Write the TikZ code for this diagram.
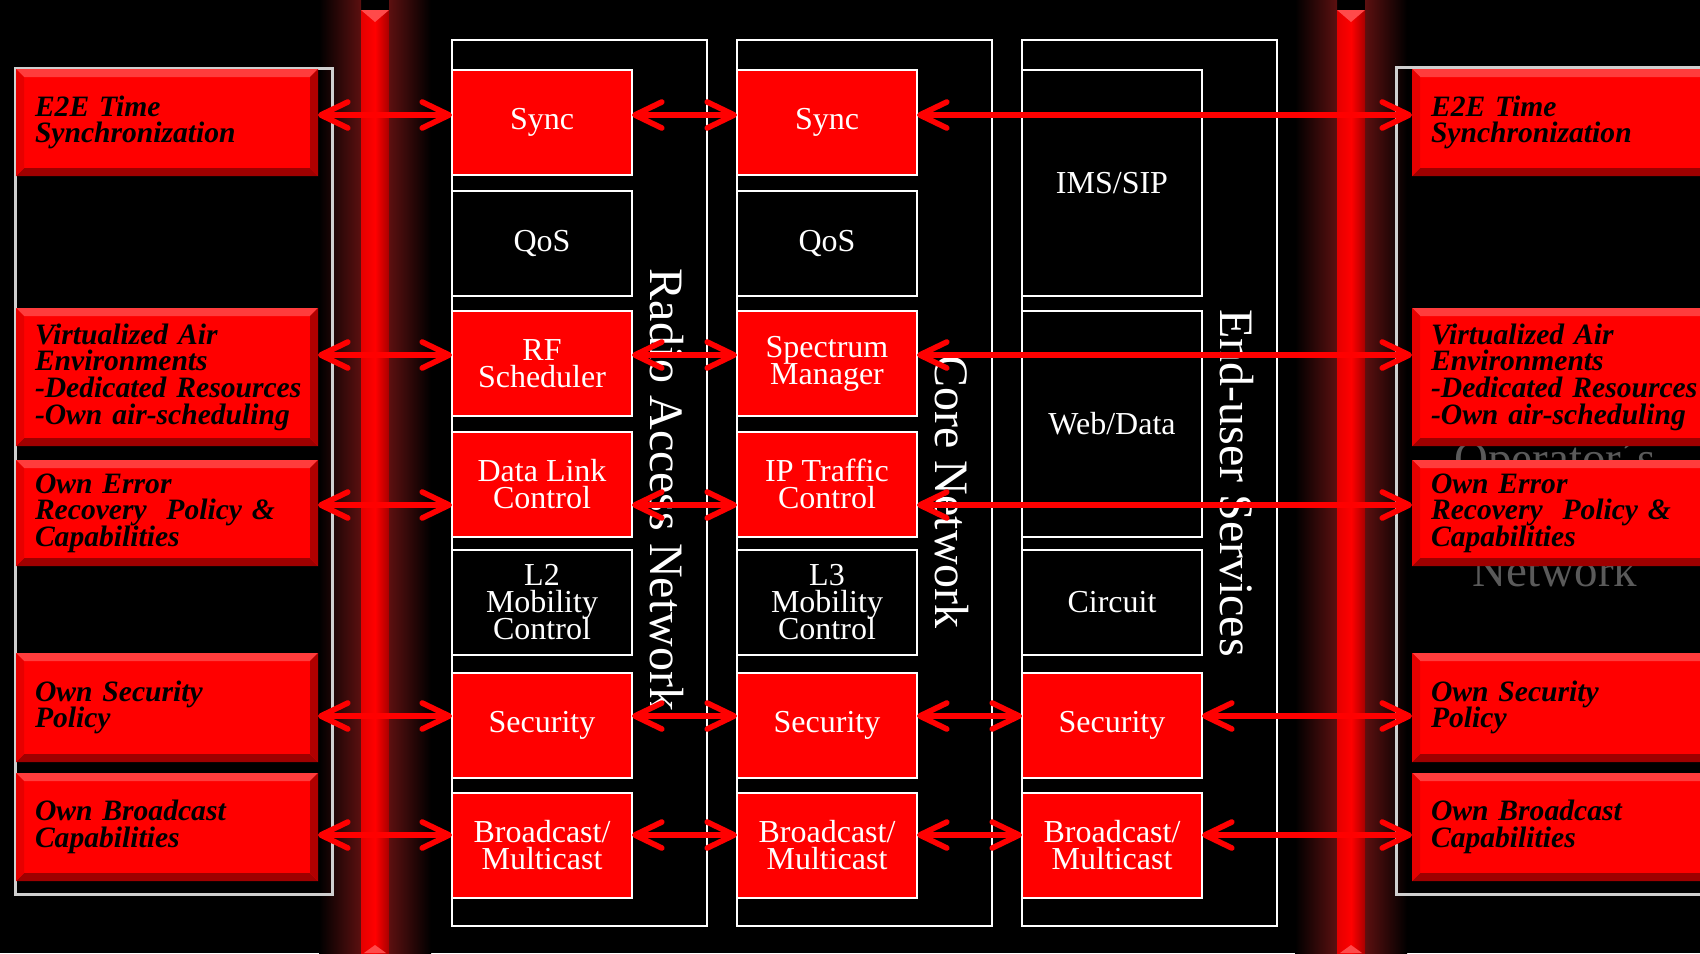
\documentclass[tikz,border=0pt]{standalone}
\usepackage{fontspec}
\setmainfont{Liberation Serif}
\usetikzlibrary{arrows.meta,calc}

\definecolor{boxred}{HTML}{FF0000}
\definecolor{glowred}{HTML}{5C1010}
\definecolor{pipelight}{HTML}{FF4A4A}
\definecolor{pipeleft}{HTML}{E40000}
\definecolor{piperight}{HTML}{A80000}
\definecolor{framegray}{HTML}{CFCFCF}
\definecolor{opgray}{HTML}{5A5A5A}
\definecolor{bevtop}{HTML}{FF3C3C}
\definecolor{bevbottom}{HTML}{9E0000}
\definecolor{bevleft}{HTML}{E60000}
\definecolor{bevright}{HTML}{B00000}

% fixed leading, whatever the ascenders and descenders
\newcommand{\tightlead}{\lineskiplimit=-20pt\relax}

\begin{document}
\begin{tikzpicture}[x=0.5pt, y=-0.5pt,
  every node/.style={inner sep=0pt, outer sep=0pt},
  cell/.style={draw=white, line width=1pt, minimum width=90pt, minimum height=52.5pt,
    align=center, text=white, anchor=north west,
    font=\fontsize{16}{13.5}\selectfont\tightlead},
  redcell/.style={cell, fill=boxred},
  darkcell/.style={cell, fill=black},
  column/.style={draw=white, line width=1pt},
  sideframe/.style={draw=framegray, line width=1.5pt},
  collabel/.style={text=white, rotate=-90, font=\fontsize{24}{24}\selectfont},
  opname/.style={text=opgray, anchor=base, font=\fontsize{23.5}{23.5}\selectfont},
  bevelbox/.style={fill=boxred, anchor=north west, minimum width=151pt,
    text width=132pt, inner xsep=9.5pt, inner ysep=0pt, align=left, text=black,
    font=\bfseries\itshape\fontsize{14.8}{13.3}\selectfont\tightlead,
    path picture={
      \coordinate (bnw) at (path picture bounding box.north west);
      \coordinate (bse) at (path picture bounding box.south east);
      \coordinate (bne) at (bse |- bnw);
      \coordinate (bsw) at (bnw |- bse);
      \fill[bevtop] (bnw) -- (bne) -- ([shift={(-8,8)}]bne) -- ([shift={(8,8)}]bnw) -- cycle;
      \fill[bevbottom] (bsw) -- (bse) -- ([shift={(-8,-8)}]bse) -- ([shift={(8,-8)}]bsw) -- cycle;
      \fill[bevleft] (bnw) -- ([shift={(8,8)}]bnw) -- ([shift={(8,-8)}]bsw) -- (bsw) -- cycle;
      \fill[bevright] (bne) -- ([shift={(-8,8)}]bne) -- ([shift={(-8,-8)}]bse) -- (bse) -- cycle;
    }},
  rightbevel/.style={bevelbox, minimum width=154pt, text width=135pt},
  link/.style={draw=boxred, line width=2.8pt,
    arrows={Straight Barb[length=13.5pt,width=13pt,line width=2.8pt,round]-Straight Barb[length=13.5pt,width=13pt,line width=2.8pt,round]}},
]

% canvas
\useasboundingbox (0,0) rectangle (1700,953);
\clip (0,0) rectangle (1700,953);
\fill[black] (0,0) rectangle (1700,953);

% glowing pipes
\foreach \px in {361,1337} {
  \shade[left color=black, right color=glowred] ({\px-42},0) rectangle (\px,953);
  \shade[left color=glowred, right color=black] ({\px+28},0) rectangle ({\px+70},953);
  \shade[left color=pipeleft, right color=piperight, middle color=boxred] (\px,10) rectangle ({\px+28},953);
  \fill[pipelight] (\px,10) -- ({\px+28},10) -- ({\px+14},22) -- cycle;
  \fill[pipelight] ({\px+3},953) -- ({\px+14},945) -- ({\px+25},953) -- cycle;
}

% operator network caption behind the right panel
\node[opname] (opA) at (1555,474) {Operator´s};
\node[opname] (opB) at (1555,586) {Network};

% side frames
\draw[sideframe] (15,68) rectangle (332,894);
\draw[sideframe] (1396,67) rectangle (1720,894);

% network columns
\draw[column] (452,40) rectangle (707,926);
\draw[column] (737,40) rectangle (992,926);
\draw[column] (1022,40) rectangle (1277,926);

\node[collabel] (ranLabel) at (667,490) {Radio Access Network};
\node[collabel] (coreLabel) at (952,492) {Core Network};
\node[collabel] (euLabel) at (1237,483) {End-user Services};

% radio access network
\node[redcell]  (ranSync) at (452,70)    {Sync};
\node[darkcell] (ranQos)  at (452,190.5) {QoS};
\node[redcell]  (ranRF)   at (452,311)   {RF\\Scheduler};
\node[redcell]  (ranDL)   at (452,431.5) {Data Link\\Control};
\node[darkcell] (ranMob)  at (452,550)   {L2\\Mobility\\Control};
\node[redcell]  (ranSec)  at (452,672.5) {Security};
\node[redcell]  (ranBC)   at (452,793)   {Broadcast/\\Multicast};

% core network
\node[redcell]  (coreSync) at (737,70)    {Sync};
\node[darkcell] (coreQos)  at (737,190.5) {QoS};
\node[redcell]  (coreSM)   at (737,311)   {Spectrum\\Manager};
\node[redcell]  (coreIP)   at (737,431.5) {IP Traffic\\Control};
\node[darkcell] (coreMob)  at (737,550)   {L3\\Mobility\\Control};
\node[redcell]  (coreSec)  at (737,672.5) {Security};
\node[redcell]  (coreBC)   at (737,793)   {Broadcast/\\Multicast};

% end-user services
\node[darkcell, minimum height=112.75pt] (euIMS) at (1022,70)  {IMS/SIP};
\node[darkcell, minimum height=112.75pt] (euWeb) at (1022,311) {Web/Data};
\node[darkcell] (euCirc) at (1022,550)   {Circuit};
\node[redcell]  (euSec)  at (1022,672.5) {Security};
\node[redcell]  (euBC)   at (1022,793)   {Broadcast/\\Multicast};

% operator panels, left
\node[bevelbox, minimum height=53.5pt] (lSync) at (16,69)  {E2E Time\\Synchronization};
\node[bevelbox, minimum height=69pt]   (lAir)  at (16,308) {Virtualized Air\\Environments\\\mbox{-Dedicated Resources}\\-Own air-scheduling};
\node[bevelbox, minimum height=53pt]   (lErr)  at (16,460) {Own Error\\Recovery\ \ Policy \&\\Capabilities};
\node[bevelbox, minimum height=54.5pt] (lSec)  at (16,653) {Own Security\\Policy};
\node[bevelbox, minimum height=54pt]   (lBC)   at (16,773) {Own Broadcast\\Capabilities};

% operator panels, right
\node[rightbevel, minimum height=53.5pt] (rSync) at (1412,69)  {E2E Time\\Synchronization};
\node[rightbevel, minimum height=69pt]   (rAir)  at (1412,308) {Virtualized Air\\Environments\\\mbox{-Dedicated Resources}\\-Own air-scheduling};
\node[rightbevel, minimum height=53pt]   (rErr)  at (1412,460) {Own Error\\Recovery\ \ Policy \&\\Capabilities};
\node[rightbevel, minimum height=54.5pt] (rSec)  at (1412,653) {Own Security\\Policy};
\node[rightbevel, minimum height=54pt]   (rBC)   at (1412,773) {Own Broadcast\\Capabilities};

% connector rows
\coordinate (rowSync) at (0,115);
\coordinate (rowRF)   at (0,355);
\coordinate (rowDL)   at (0,505);
\coordinate (rowSec)  at (0,716);
\coordinate (rowBC)   at (0,835);

% left panels to radio access network
\draw[link] (lSync.east |- rowSync) -- (ranSync.west |- rowSync);
\draw[link] (lAir.east |- rowRF)    -- (ranRF.west |- rowRF);
\draw[link] (lErr.east |- rowDL)    -- (ranDL.west |- rowDL);
\draw[link] (lSec.east |- rowSec)   -- (ranSec.west |- rowSec);
\draw[link] (lBC.east |- rowBC)     -- (ranBC.west |- rowBC);

% radio access network to core network
\draw[link] (ranSync.east |- rowSync) -- (coreSync.west |- rowSync);
\draw[link] (ranRF.east |- rowRF)     -- (coreSM.west |- rowRF);
\draw[link] (ranDL.east |- rowDL)     -- (coreIP.west |- rowDL);
\draw[link] (ranSec.east |- rowSec)   -- (coreSec.west |- rowSec);
\draw[link] (ranBC.east |- rowBC)     -- (coreBC.west |- rowBC);

% core network to right panels
\draw[link] (coreSync.east |- rowSync) -- (rSync.west |- rowSync);
\draw[link] (coreSM.east |- rowRF)     -- (rAir.west |- rowRF);
\draw[link] (coreIP.east |- rowDL)     -- (rErr.west |- rowDL);
\draw[link] (coreSec.east |- rowSec)   -- (euSec.west |- rowSec);
\draw[link] (coreBC.east |- rowBC)     -- (euBC.west |- rowBC);

% end-user services to right panels
\draw[link] (euSec.east |- rowSec) -- (rSec.west |- rowSec);
\draw[link] (euBC.east |- rowBC)   -- (rBC.west |- rowBC);

\end{tikzpicture}
\end{document}
